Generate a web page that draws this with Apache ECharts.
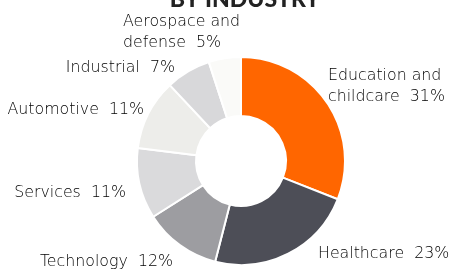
<!DOCTYPE html>
<html><head><meta charset="utf-8">
<script src="https://cdn.jsdelivr.net/npm/echarts@6/dist/echarts.min.js"></script>
<style>html,body{margin:0;padding:0;background:#fff}#c{width:455px;height:274px}</style>
</head><body><div id="c"></div>
<script>
const categories = ["Education and\nchildcare", "Healthcare", "Technology", "Services", "Automotive", "Industrial", "Aerospace and\ndefense"];
const shares = [31, 23, 12, 11, 11, 7, 5];
const colors = ["#FF6600", "#4D4E57", "#9D9DA1", "#DADADC", "#EDEDEA", "#D8D8DA", "#FAFAF8"];
// label anchor placement (layout only)
const labelPlace = [
  { x: 328, y: 86, align: 'left' },
  { x: 318, y: 254, align: 'left' },
  { x: 173, y: 262, align: 'right' },
  { x: 126, y: 193, align: 'right' },
  { x: 144, y: 110, align: 'right' },
  { x: 175, y: 68, align: 'right' },
  { x: 123, y: 32, align: 'left' }
];

const chart = echarts.init(document.getElementById('c'));
chart.setOption({
  animation: false,
  title: {
    text: 'BY INDUSTRY', left: 240, top: -17, textAlign: 'center',
    textStyle: { fontFamily: 'Lato', fontWeight: 900, fontSize: 23, color: '#222' }
  },
  series: [{
    type: 'pie',
    center: [241, 161],
    radius: [45, 104],
    startAngle: 90,
    clockwise: true,
    data: categories.map((n, i) => ({ name: n, value: shares[i], itemStyle: { color: colors[i] } })),
    itemStyle: { borderColor: '#fff', borderWidth: 2 },
    label: {
      show: true, position: 'outside', overflow: 'none',
      formatter: p => p.name + '  ' + p.value + '%',
      fontFamily: 'DejaVu Sans', fontWeight: 200, fontSize: 15.8, color: '#000', lineHeight: 21
    },
    labelLine: { show: false },
    labelLayout: p => {
      const s = labelPlace[p.dataIndex];
      return { x: s.x, y: s.y, align: s.align, verticalAlign: 'middle' };
    }
  }]
});
</script></body></html>
